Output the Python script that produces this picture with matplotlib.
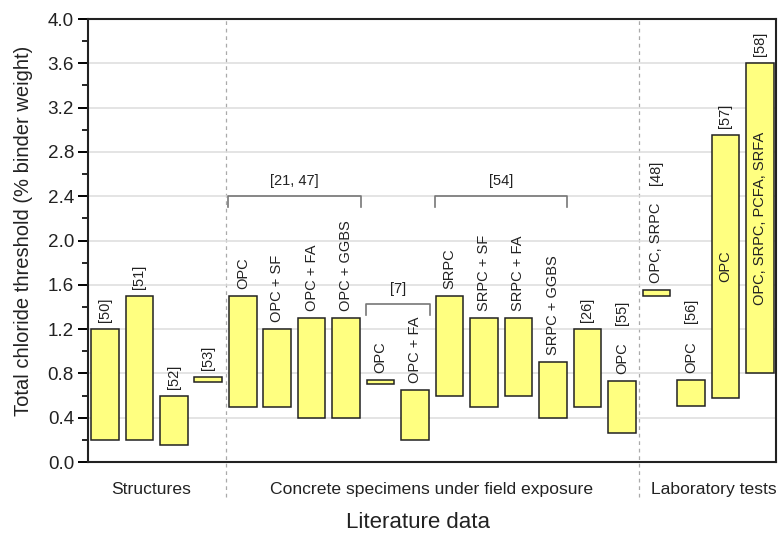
import matplotlib.pyplot as plt
import numpy as np

plt.rcParams['font.family'] = ['Liberation Sans', 'DejaVu Sans']

# bar ranges (low / high) of chloride threshold, % binder weight
bar_low = [0.20, 0.20, 0.15, 0.72, 0.50, 0.50, 0.40, 0.40, 0.70, 0.20,
           0.60, 0.50, 0.60, 0.40, 0.50, 0.26, 1.50, 0.51, 0.58, 0.80]
bar_high = [1.20, 1.50, 0.60, 0.77, 1.50, 1.20, 1.30, 1.30, 0.74, 0.65,
            1.50, 1.30, 1.30, 0.90, 1.20, 0.73, 1.55, 0.74, 2.95, 3.60]

# labels written above each bar
top_labels = ['[50]', '[51]', '[52]', '[53]', 'OPC', 'OPC + SF', 'OPC + FA',
              'OPC + GGBS', 'OPC', 'OPC + FA', 'SRPC', 'SRPC + SF', 'SRPC + FA',
              'SRPC + GGBS', '[26]', 'OPC', 'OPC, SRPC', 'OPC', '[57]', '[58]']
# second label stacked above the first one
ref_labels = ['', '', '', '', '', '', '', '', '', '', '', '', '', '', '',
              '[55]', '[48]', '[56]', '', '']
# labels written inside the bar
inside_labels = ['', '', '', '', '', '', '', '', '', '', '', '', '', '', '',
                 '', '', '', 'OPC', 'OPC, SRPC, PCFA, SRFA']

group_names = ['Structures', 'Concrete specimens under field exposure', 'Laboratory tests']
group_edges = [3.5, 15.5]

bracket_labels = ['[21, 47]', '[7]', '[54]']
bracket_first = [4, 8, 10]
bracket_last = [7, 9, 13]
bracket_y = [2.4, 1.425, 2.4]

x = np.arange(len(bar_low))
low = np.array(bar_low)
high = np.array(bar_high)

fig = plt.figure(figsize=(7.78, 5.34), dpi=100)
ax = fig.add_axes([0.1131, 0.1348, 0.8843, 0.8296])

ax.bar(x, high - low, bottom=low, width=0.8, color='#ffff80',
       edgecolor='#222222', linewidth=1.1, zorder=3)

xmin, xmax = -0.49, 19.47
ax.set_xlim(xmin, xmax)
ax.set_ylim(0, 4.0)
ax.set_yticks(np.arange(0, 4.01, 0.4))
ax.set_yticks(np.arange(0.2, 4.0, 0.4), minor=True)
ax.set_yticklabels(['%.1f' % v for v in np.arange(0, 4.01, 0.4)])
ax.set_xticks([])
ax.tick_params(axis='y', which='major', direction='out', length=7, width=1.4,
               labelsize=13.6, labelcolor='#222222', pad=3)
ax.tick_params(axis='y', which='minor', direction='out', length=4, width=1.2)
ax.grid(axis='y', which='major', color='#dddddd', linewidth=1.1, zorder=0)
for s in ax.spines.values():
    s.set_linewidth(1.5)
    s.set_color('#222222')

# group separators (run below the axis)
for gx in group_edges:
    ax.axvline(gx, ymin=-0.08, ymax=1, color='#aaaaaa', linestyle=(0, (3, 3)),
               linewidth=0.9, clip_on=False, zorder=1)

# group names under the axis
group_x = [1.35, 9.47, 17.66]
for gx, name in zip(group_x, group_names):
    ax.text(gx, -0.061, name, transform=ax.get_xaxis_transform(),
            ha='center', va='center', fontsize=12.6, color='#222222')

# labels on bars
fs = 10.5
for i in range(len(x)):
    t = ax.annotate(top_labels[i], xy=(x[i], high[i]), xytext=(0, 5),
                    textcoords='offset points', rotation=90, ha='center',
                    va='bottom', fontsize=fs, color='#222222')
    if inside_labels[i]:
        ax.text(x[i], (low[i] + high[i]) / 2, inside_labels[i], rotation=90,
                ha='center', va='center', fontsize=fs, color='#222222', zorder=4)
    if ref_labels[i]:
        ax.annotate(ref_labels[i], xy=(0.5, 1), xycoords=t, xytext=(0, 13),
                    textcoords='offset points', rotation=90, ha='center',
                    va='bottom', fontsize=fs, color='#222222')

# brackets
for lab, a, b, y in zip(bracket_labels, bracket_first, bracket_last, bracket_y):
    x0, x1 = a - 0.42, b + 0.42
    ax.plot([x0, x0, x1, x1], [y - 0.1, y, y, y - 0.1], color='#777777',
            linewidth=1.2, zorder=2)
    ax.annotate(lab, xy=((x0 + x1) / 2, y), xytext=(0, 6), textcoords='offset points',
                ha='center', va='bottom', fontsize=fs, color='#222222')

fig.text(24 / 778, 0.567, 'Total chloride threshold (% binder weight)', rotation=90,
         ha='center', va='center', fontsize=14.5, color='#222222')
fig.text(417.5 / 778, 1 - 523 / 534, 'Literature data', ha='center', va='center',
         fontsize=16, color='#222222')

fig.savefig('out.png', dpi=100)
